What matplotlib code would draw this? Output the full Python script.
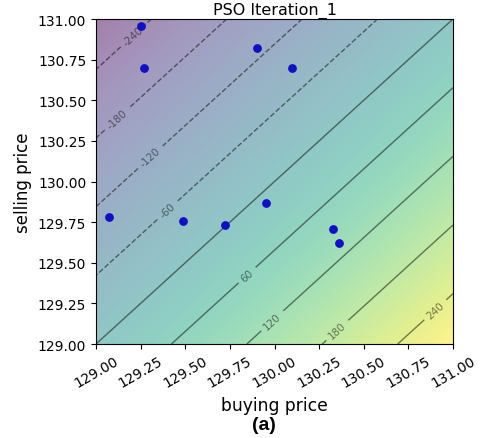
import numpy as np
import matplotlib
matplotlib.use("Agg")
import matplotlib.pyplot as plt

# Particle positions at iteration 1 (buying price, selling price)
buy_prices = [129.25, 129.27, 129.90, 130.10, 129.07, 129.49, 129.72, 129.95, 130.33, 130.36]
sell_prices = [130.96, 130.70, 130.82, 130.70, 129.78, 129.76, 129.73, 129.87, 129.71, 129.62]

# Objective surface and contour levels
price_min, price_max = 129.0, 131.0
slope = 142.0
zero_level = [0]
label_levels = [-240, -180, -120, -60, 60, 120, 180, 240]
label_spots = [(129.19, 130.92), (129.14, 130.36), (129.32, 130.13), (129.42, 129.80),
               (129.85, 129.42), (130.00, 129.13), (130.38, 129.05), (130.91, 129.20)]
tick_values = [129.00, 129.25, 129.50, 129.75, 130.00, 130.25, 130.50, 130.75, 131.00]

grid = np.linspace(price_min, price_max, 400)
X, Y = np.meshgrid(grid, grid)
Z = slope * (X - Y)

fig = plt.figure(figsize=(4.81, 4.39), dpi=100)
ax = fig.add_axes([0.1996, 0.2141, 0.7422, 0.7403])

ax.imshow(Z, extent=[price_min, price_max, price_min, price_max], origin="lower",
          cmap="viridis", alpha=0.5, aspect="auto")
cs = ax.contour(X, Y, Z, levels=label_levels, colors="black", alpha=0.5, linewidths=1.0)
ax.clabel(cs, inline=True, fontsize=7.5, fmt="%d", manual=label_spots)
ax.contour(X, Y, Z, levels=zero_level, colors="black", alpha=0.5, linewidths=1.0)

ax.scatter(buy_prices, sell_prices, s=28, color="#1010c0", zorder=5)

ax.set_xlim(price_min, price_max)
ax.set_ylim(price_min, price_max)
ax.set_xticks(tick_values)
ax.set_yticks(tick_values)
ax.set_xticklabels([f"{v:.2f}" for v in tick_values], rotation=30, fontsize=10)
ax.set_yticklabels([f"{v:.2f}" for v in tick_values], fontsize=10)
ax.set_title("PSO Iteration_1", fontsize=11.5, pad=4)
ax.set_xlabel("buying price", fontsize=12.3)
ax.set_ylabel("selling price", fontsize=12)

fig.text(0.549, 0.031, "(a)", ha="center", va="center", fontsize=14, fontweight="bold",
         family="Liberation Sans")

fig.savefig("out.png", dpi=100)
